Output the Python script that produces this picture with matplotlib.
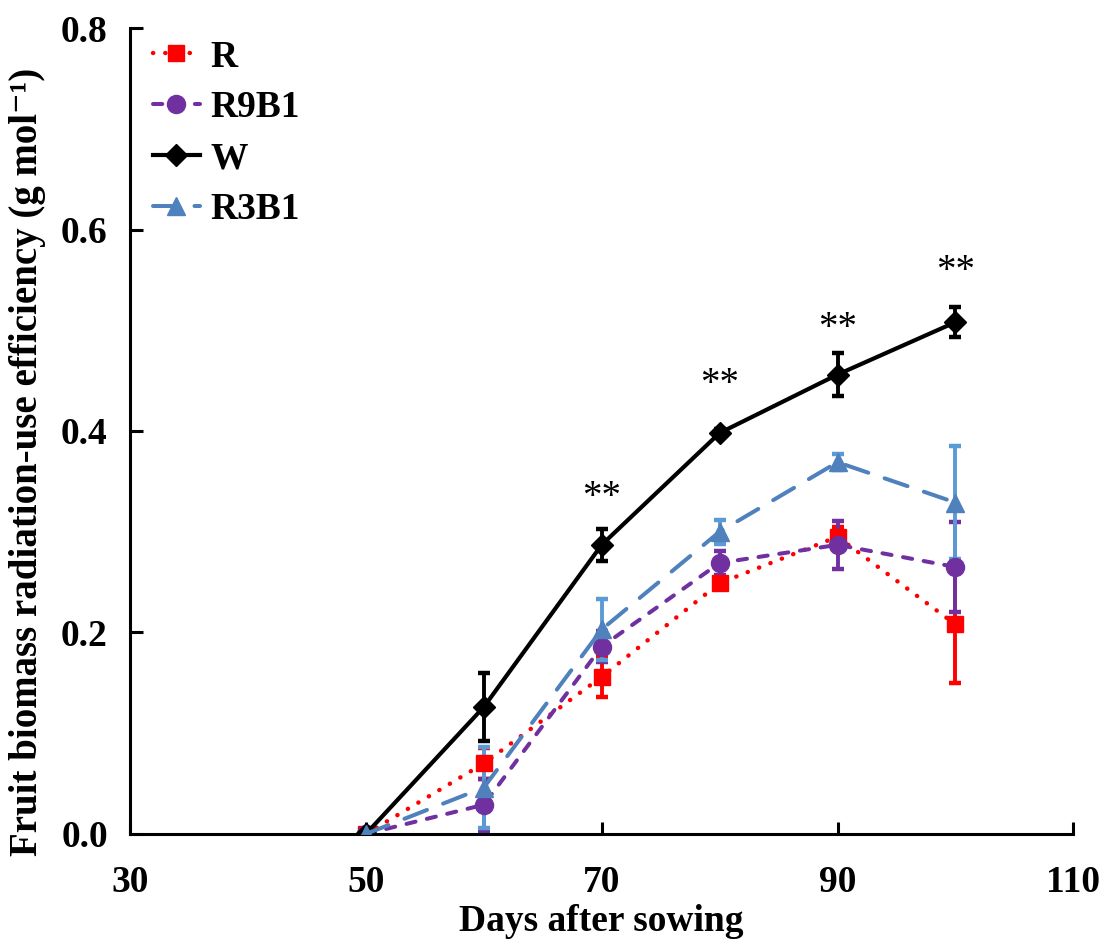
import matplotlib
matplotlib.use("Agg")
import matplotlib.pyplot as plt

days = [50, 60, 70, 80, 90, 100]

r_mean = [0.0, 0.070, 0.156, 0.249, 0.295, 0.208]
r_err = [0.0, 0.015, 0.020, 0.006, 0.010, 0.058]

r9b1_mean = [0.0, 0.029, 0.186, 0.269, 0.287, 0.265]
r9b1_err = [0.0, 0.026, 0.015, 0.012, 0.024, 0.045]

w_mean = [0.0, 0.126, 0.287, 0.398, 0.456, 0.508]
w_err = [0.0, 0.034, 0.016, 0.004, 0.021, 0.015]

r3b1_mean = [0.0, 0.046, 0.203, 0.300, 0.369, 0.329]
r3b1_err = [0.0, 0.040, 0.030, 0.012, 0.008, 0.056]

sig_days = [70, 80, 90, 100]
sig_heights = [0.334, 0.446, 0.502, 0.558]
sig_labels = ["**", "**", "**", "**"]

plt.rcParams["font.family"] = ["Liberation Serif", "DejaVu Serif"]

fig = plt.figure(figsize=(11.02, 9.40), dpi=100)
ax = fig.add_axes([0.118, 0.1128, 0.856, 0.8574])

series = [
    ("R", r_mean, r_err, "#FF0000", "#FF0000", (0, (0.05, 2.7)), "s", 12, 3.2),
    ("R9B1", r9b1_mean, r9b1_err, "#7030A0", "#7030A0", (0, (2.3, 2.9)), "o", 13, 2.9),
    ("W", w_mean, w_err, "#000000", "#000000", "-", "D", 11, 3.0),
    ("R3B1", r3b1_mean, r3b1_err, "#4F81BD", "#5B9BD5", (0, (6.0, 4.3)), "^", 13, 2.9),
]

for name, mean, err, col, ecol, ls, mk, ms, lw in series:
    ax.errorbar(days, mean, yerr=err, fmt="none", ecolor=ecol,
                elinewidth=2.8, capsize=4.5, capthick=3.2, zorder=2)
    ln, = ax.plot(days, mean, color=col, linestyle=ls, linewidth=lw,
                  marker=mk, markersize=ms, markerfacecolor=col,
                  markeredgecolor=col, label=name, zorder=3)
    ln.set_dash_capstyle("round")

for d, h, lab in zip(sig_days, sig_heights, sig_labels):
    ax.text(d, h, lab, ha="center", va="center", fontsize=28)

ax.set_xlim(30, 110)
ax.set_ylim(0, 0.8)
ax.set_xticks([30, 50, 70, 90, 110])
ax.set_yticks([0.0, 0.2, 0.4, 0.6, 0.8])
ax.set_yticklabels(["0.0", "0.2", "0.4", "0.6", "0.8"])
ax.spines["top"].set_visible(False)
ax.spines["right"].set_visible(False)
for s in ("left", "bottom"):
    ax.spines[s].set_linewidth(2.2)
ax.tick_params(direction="in", length=9, width=2.2, labelsize=27)
ax.tick_params(axis="x", pad=22)
ax.tick_params(axis="y", pad=16)
for lab in ax.get_xticklabels() + ax.get_yticklabels():
    lab.set_fontweight("bold")

ax.set_xlabel("Days after sowing", fontsize=27, fontweight="bold", labelpad=3)
ax.set_ylabel("Fruit biomass radiation-use efficiency (g mol\u207b\u00b9)",
              fontsize=28, fontweight="bold")
ax.yaxis.set_label_coords(-0.089, 0.4615)

leg = ax.legend(loc="upper left", bbox_to_anchor=(0.016, 0.995), frameon=False,
                prop={"weight": "bold", "size": 27}, handlelength=1.25,
                handletextpad=0.28, labelspacing=0.42, borderaxespad=0.0,
                borderpad=0.2)

fig.savefig("out.png", dpi=100)
